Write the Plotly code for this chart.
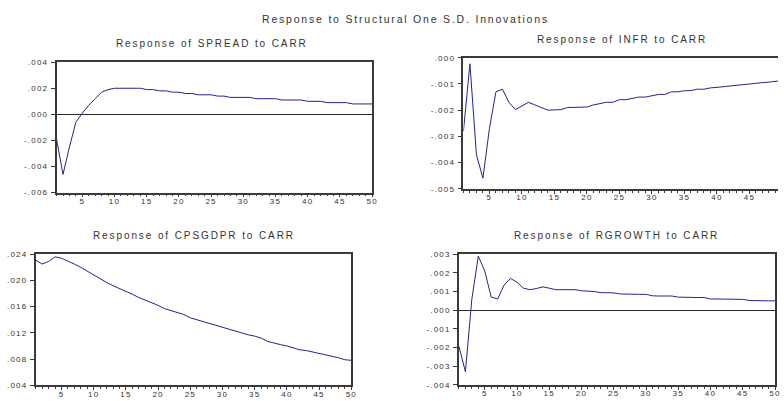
import plotly.graph_objects as go

# Impulse responses, periods 1..50
periods = list(range(1, 51))

spread = [-0.0019, -0.0046, -0.0025, -0.0006, 0.0001, 0.0007, 0.0012, 0.0017, 0.0019, 0.0020,
          0.0020, 0.0020, 0.0020, 0.0020, 0.0019, 0.0019, 0.0018, 0.0018, 0.0017, 0.0017,
          0.0016, 0.0016, 0.0015, 0.0015, 0.0015, 0.0014, 0.0014, 0.0013, 0.0013, 0.0013,
          0.0013, 0.0012, 0.0012, 0.0012, 0.0012, 0.0011, 0.0011, 0.0011, 0.0011, 0.0010,
          0.0010, 0.0010, 0.0009, 0.0009, 0.0009, 0.0009, 0.0008, 0.0008, 0.0008, 0.0008]

infr = [-0.0028, -0.00023, -0.0037, -0.0046, -0.0027, -0.0013, -0.0012, -0.0017, -0.00198, -0.00185,
        -0.0017, -0.0018, -0.0019, -0.0020, -0.00199, -0.00198, -0.0019, -0.0019, -0.0019, -0.00188,
        -0.0018, -0.00176, -0.0017, -0.0017, -0.0016, -0.0016, -0.00155, -0.0015, -0.0015, -0.00145,
        -0.0014, -0.0014, -0.0013, -0.0013, -0.00126, -0.00125, -0.0012, -0.0012, -0.00115, -0.00113,
        -0.0011, -0.00108, -0.00105, -0.00103, -0.0010, -0.00098, -0.00095, -0.00093, -0.0009, -0.00087]

cpsgdpr = [0.0231, 0.0225, 0.0229, 0.0236, 0.0234, 0.0230, 0.0225, 0.0220, 0.0214, 0.0208,
           0.0202, 0.0197, 0.0192, 0.0188, 0.0184, 0.0179, 0.0174, 0.0170, 0.0167, 0.0162,
           0.0157, 0.0154, 0.0151, 0.0148, 0.0143, 0.0140, 0.0138, 0.0134, 0.0131, 0.0129,
           0.0126, 0.0122, 0.0119, 0.0117, 0.0115, 0.0112, 0.0107, 0.0104, 0.0102, 0.0100,
           0.0097, 0.0094, 0.0093, 0.0091, 0.0088, 0.0086, 0.0084, 0.0082, 0.0079, 0.0078]

rgrowth = [-0.00194, -0.0033, 0.0006, 0.0029, 0.0021, 0.0007, 0.0006, 0.00135, 0.0017, 0.0015,
           0.00118, 0.0011, 0.00116, 0.00125, 0.00118, 0.0011, 0.0011, 0.0011, 0.0011, 0.00104,
           0.00102, 0.0010, 0.00094, 0.00094, 0.00093, 0.00087, 0.00085, 0.00085, 0.00085, 0.00085,
           0.00077, 0.00076, 0.00076, 0.00076, 0.0007, 0.00068, 0.00068, 0.00068, 0.00068, 0.0006,
           0.0006, 0.0006, 0.0006, 0.0006, 0.00058, 0.00052, 0.0005, 0.0005, 0.0005, 0.0005]

# Axis tick values and labels
x_ticks = [5, 10, 15, 20, 25, 30, 35, 40, 45, 50]
x_labels = ["5", "10", "15", "20", "25", "30", "35", "40", "45", "50"]
spread_ticks = [0.004, 0.002, 0.0, -0.002, -0.004, -0.006]
spread_labels = [".004", ".002", ".000", "-.002", "-.004", "-.006"]
infr_ticks = [0.0, -0.001, -0.002, -0.003, -0.004, -0.005]
infr_labels = [".000", "-.001", "-.002", "-.003", "-.004", "-.005"]
cps_ticks = [0.024, 0.020, 0.016, 0.012, 0.008, 0.004]
cps_labels = [".024", ".020", ".016", ".012", ".008", ".004"]
rg_ticks = [0.003, 0.002, 0.001, 0.0, -0.001, -0.002, -0.003, -0.004]
rg_labels = [".003", ".002", ".001", ".000", "-.001", "-.002", "-.003", "-.004"]

W, H = 784, 401
FRAME = "#3a3a3a"
LINE = "#23238f"
TXT = "#333333"
FONT = "Arial, Liberation Sans, sans-serif"


def spaced(s, px):
    return f"<span style='letter-spacing:{px}px'>{s}</span>"


def px_x(a, b):
    return [a / W, min(b / W, 1.0)]


def px_y(top, bottom):
    return [1 - bottom / H, 1 - top / H]


panels = [
    # series, yticks, ylabels, yrange, xdomain px, ydomain px, xrange, zero line, title, title pos
    (spread, spread_ticks, spread_labels, [-0.006, 0.004], (57, 375), (59.5, 193), [1, 50], True,
     "Response of SPREAD to CARR", (214, 40.7)),
    (infr, infr_ticks, infr_labels, [-0.005, 0.0], (467, 784), (55, 189), [1, 49.4], False,
     "Response of INFR to CARR", (626.5, 36.3)),
    (cpsgdpr, cps_ticks, cps_labels, [0.004, 0.024], (36, 354), (256, 390), [1, 50], False,
     "Response of CPSGDPR to CARR", (195, 237)),
    (rgrowth, rg_ticks, rg_labels, [-0.004, 0.003], (462.5, 781), (256, 389.5), [1, 50], True,
     "Response of RGROWTH to CARR", (621.5, 237)),
]

fig = go.Figure()
annotations = []
layout_axes = {}

for i, (ys, yt, yl, yr, xd, yd, xr, zero, title, tpos) in enumerate(panels, start=1):
    sfx = "" if i == 1 else str(i)
    fig.add_trace(go.Scatter(
        x=periods, y=ys, mode="lines",
        line=dict(color=LINE, width=1),
        xaxis="x" + sfx, yaxis="y" + sfx,
        showlegend=False, hoverinfo="skip",
    ))
    full_right = xd[1] >= W
    layout_axes["xaxis" + sfx] = dict(
        domain=px_x(*xd), range=xr, anchor="y" + sfx,
        showline=True, linecolor=FRAME, linewidth=1.5, mirror=True,
        showgrid=False, zeroline=False,
        tickmode="array", tickvals=x_ticks, ticktext=[spaced(t, 1.2) for t in x_labels],
        ticks="outside", ticklen=3, tickwidth=1, tickcolor=FRAME,
        ticklabelstandoff=-3,
        minor=dict(dtick=1, tick0=0, ticks="outside", ticklen=2, tickwidth=1, tickcolor=FRAME),
        tickfont=dict(family=FONT, size=8, color=TXT),
    )
    layout_axes["yaxis" + sfx] = dict(
        domain=px_y(*yd), range=yr, anchor="x" + sfx,
        showline=True, linecolor=FRAME, linewidth=1.5, mirror=not full_right,
        showgrid=False,
        zeroline=zero, zerolinecolor="#2a2a2a", zerolinewidth=1.2,
        tickmode="array", tickvals=yt, ticktext=[spaced(t, 1.2) for t in yl],
        ticks="outside", ticklen=4, tickwidth=1, tickcolor=FRAME,
        ticklabelstandoff=1,
        tickfont=dict(family=FONT, size=8, color=TXT),
    )
    annotations.append(dict(
        text=spaced(title, 1.9), x=tpos[0] / W, y=1 - tpos[1] / H,
        xref="paper", yref="paper", xanchor="center", yanchor="middle",
        showarrow=False,
        font=dict(family=FONT, size=10, color=TXT),
    ))

annotations.append(dict(
    text=spaced("Response to Structural One S.D. Innovations", 1.8),
    x=409 / W, y=1 - 15.7 / H, xref="paper", yref="paper",
    xanchor="center", yanchor="middle", showarrow=False,
    font=dict(family=FONT, size=10.5, color=TXT),
))

fig.update_layout(
    width=W, height=H,
    margin=dict(l=0, r=0, t=0, b=0),
    paper_bgcolor="white", plot_bgcolor="white",
    annotations=annotations,
    **layout_axes,
)

fig.write_html("out.html")
